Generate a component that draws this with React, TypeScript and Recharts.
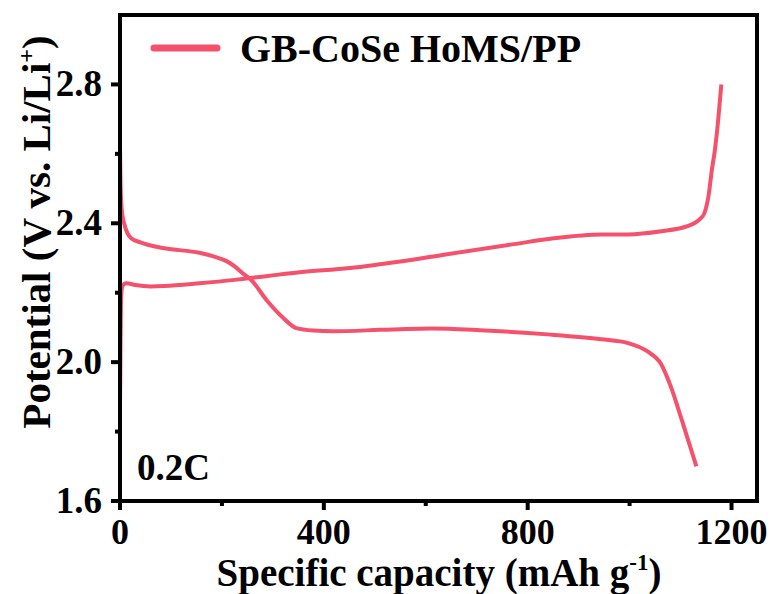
import React from "react";
import { LineChart, Line, XAxis, YAxis, ReferenceArea, Customized } from "recharts";

const dischargeCap = [0, 1, 2, 5, 8, 15, 22, 40, 87, 156, 185, 209, 225, 240, 258, 287, 320, 346, 380, 418, 510, 550, 609, 707, 839, 944, 997, 1036, 1062, 1082, 1101, 1131];
const dischargeV = [2.62, 2.52, 2.47, 2.42, 2.4, 2.37, 2.357, 2.345, 2.328, 2.315, 2.304, 2.291, 2.276, 2.257, 2.236, 2.18, 2.128, 2.098, 2.091, 2.089, 2.093, 2.095, 2.097, 2.092, 2.08, 2.066, 2.055, 2.03, 1.994, 1.925, 1.84, 1.7];

const chargeCap = [0, 0.5, 1, 2, 4, 8, 13, 30, 60, 87, 156, 225, 254, 353, 451, 510, 550, 642, 773, 851, 944, 997, 1062, 1110, 1127, 1140, 1147, 1155, 1162, 1167, 1174, 1180];
const chargeV = [1.88, 1.95, 2.05, 2.18, 2.215, 2.225, 2.227, 2.222, 2.218, 2.219, 2.227, 2.237, 2.242, 2.259, 2.271, 2.282, 2.29, 2.311, 2.34, 2.357, 2.368, 2.368, 2.377, 2.39, 2.4, 2.415, 2.43, 2.48, 2.56, 2.607, 2.7, 2.8];

const xTicks = [0, 200, 400, 600, 800, 1000, 1200];
const xLabeled = [0, 400, 800, 1200];
const yTicks = [1.6, 1.8, 2.0, 2.2, 2.4, 2.6, 2.8];
const yLabeled = [1.6, 2.0, 2.4, 2.8];

const seriesName = "GB-CoSe HoMS/PP";
const rateLabel = "0.2C";

const discharge = dischargeCap.map((c, i) => ({ cap: c, v: dischargeV[i] }));
const charge = chargeCap.map((c, i) => ({ cap: c, v: chargeV[i] }));

const COLOR = "#F4516C";
const FONT = "'Liberation Serif', 'Times New Roman', serif";

const XTick = (props: any) => {
  const { x, y, payload } = props;
  const major = xLabeled.includes(payload.value);
  return (
    <g>
      <line x1={x} y1={y} x2={x} y2={y + (major ? 9 : 5)} stroke="#000" strokeWidth={4} />
      {major && (
        <text x={x} y={y + 43} textAnchor="middle" fontFamily={FONT} fontWeight="bold" fontSize={36} fill="#000">
          {payload.value}
        </text>
      )}
    </g>
  );
};

const YTick = (props: any) => {
  const { x, y, payload } = props;
  const major = yLabeled.some((v) => Math.abs(v - payload.value) < 1e-6);
  return (
    <g>
      <line x1={x} y1={y} x2={x - (major ? 9 : 5)} y2={y} stroke="#000" strokeWidth={4} />
      {major && (
        <text x={x - 18} y={y + 12} textAnchor="end" fontFamily={FONT} fontWeight="bold" fontSize={37} fill="#000">
          {payload.value.toFixed(1)}
        </text>
      )}
    </g>
  );
};

const XTitle = () => (
  <text x={439} y={586} textAnchor="middle" fontFamily={FONT} fontWeight="bold" fontSize={39} fill="#000">
    Specific capacity (mAh g
    <tspan fontSize={23} dy={-16}>-1</tspan>
    <tspan dy={16}>)</tspan>
  </text>
);

const YTitle = () => (
  <text
    x={50}
    y={232}
    transform="rotate(-90, 50, 232)"
    textAnchor="middle"
    fontFamily={FONT}
    fontWeight="bold"
    fontSize={41}
    fill="#000"
  >
    Potential (V vs. Li/Li
    <tspan fontSize={24} dy={-16}>+</tspan>
    <tspan dy={16}>)</tspan>
  </text>
);

const LegendMark = () => (
  <g>
    <line x1={154} y1={48} x2={217} y2={48} stroke={COLOR} strokeWidth={7} strokeLinecap="round" />
    <text x={240} y={62} fontFamily={FONT} fontWeight="bold" fontSize={40} fill="#000">
      {seriesName}
    </text>
  </g>
);

const RateText = () => (
  <text x={137} y={480} fontFamily={FONT} fontWeight="bold" fontSize={37} fill="#000">
    {rateLabel}
  </text>
);

export default function App() {
  return (
    <div style={{ position: "absolute", left: 0, top: 0, width: 775, height: 594, background: "#fff" }}>
      <LineChart width={775} height={594} margin={{ top: 15, right: 18, bottom: 0, left: 0 }}>
        <XAxis
          dataKey="cap"
          type="number"
          domain={[0, 1250]}
          ticks={xTicks}
          allowDataOverflow
          height={93}
          tickSize={0}
          tickMargin={0}
          tickLine={false}
          axisLine={{ stroke: "#000", strokeWidth: 4 }}
          tick={<XTick />}
          interval={0}
        />
        <YAxis
          dataKey="v"
          type="number"
          domain={[1.6, 3.0]}
          ticks={yTicks}
          allowDataOverflow
          width={120}
          tickSize={0}
          tickMargin={0}
          tickLine={false}
          axisLine={{ stroke: "#000", strokeWidth: 4 }}
          tick={<YTick />}
          interval={0}
        />
        <ReferenceArea x1={0} x2={1250} y1={1.6} y2={3.0} fill="none" stroke="#000" strokeWidth={4} />
        <Line data={discharge} dataKey="v" type="monotone" stroke={COLOR} strokeWidth={4} dot={false} isAnimationActive={false} name={seriesName} />
        <Line data={charge} dataKey="v" type="monotone" stroke={COLOR} strokeWidth={4} dot={false} isAnimationActive={false} legendType="none" />
        <Customized component={LegendMark} />
        <Customized component={XTitle} />
        <Customized component={YTitle} />
        <Customized component={RateText} />
      </LineChart>
    </div>
  );
}
